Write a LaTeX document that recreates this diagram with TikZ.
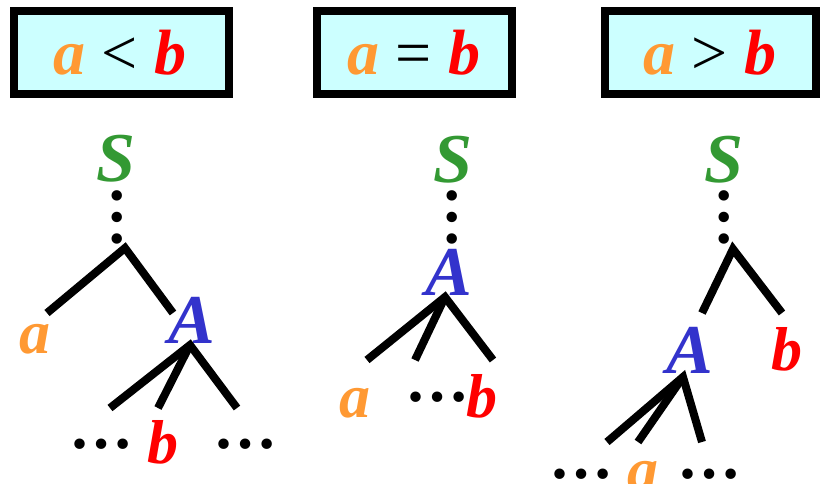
\documentclass[tikz,border=0pt]{standalone}
\usepackage{fontspec}
\setmainfont{Liberation Serif}
\definecolor{boxfill}{HTML}{CCFFFF}
\definecolor{cola}{HTML}{FF9933}
\definecolor{colb}{HTML}{FF0000}
\definecolor{colS}{HTML}{339933}
\definecolor{colA}{HTML}{3333CC}
\begin{document}
\begin{tikzpicture}[x=1pt,y=-1pt,
  relbox/.style={draw=black,line width=8pt,fill=boxfill},
  rel/.style={inner sep=0pt,font=\fontsize{64}{64}\selectfont\bfseries\itshape},
  lt/.style={inner sep=0pt,font=\fontsize{62}{62}\selectfont\bfseries\itshape},
  capl/.style={inner sep=0pt,font=\fontsize{70}{70}\selectfont\bfseries\itshape},
  ell/.style={inner sep=0pt,font=\fontsize{64}{64}\selectfont\bfseries},
  vell/.style={ell,rotate=90},
  branch/.style={line width=8pt,line cap=butt}]
\useasboundingbox (0,0) rectangle (828,483);
% boxes
\draw[relbox] (14,11) rectangle (229,94);
\draw[relbox] (317,11) rectangle (512,94);
\draw[relbox] (605,11) rectangle (816,94);
\node[rel,anchor=base] (r1) at (120,74) {\textcolor{cola}{a} \textcolor{black}{\upshape\mdseries<} \textcolor{colb}{b}};
\node[rel,anchor=base] (r2) at (414,74) {\textcolor{cola}{a} \textcolor{black}{\upshape\mdseries=} \textcolor{colb}{b}};
\node[rel,anchor=base] (r3) at (710,74) {\textcolor{cola}{a} \textcolor{black}{\upshape\mdseries>} \textcolor{colb}{b}};
% tree 1
\node[capl,text=colS] (S1) at (116,159) {S};
\node[vell] (v1) at (117,217) {…};
\coordinate (p1) at (125,248);
\coordinate (l1) at (47,313);
\coordinate (q1) at (173,313);
\node[lt,text=cola] (a1) at (35,339) {a};
\node[capl,text=colA] (A1) at (192,320) {A};
\coordinate (pA1) at (190,345);
\coordinate (e11) at (110,408);
\coordinate (e12) at (158,408);
\coordinate (e13) at (237,408);
\node[ell] (d11) at (101,444) {…};
\node[lt,text=colb] (b1) at (163,442) {b};
\node[ell] (d12) at (245,444) {…};
\draw[branch] (l1) -- (p1) -- (q1);
\draw[branch] (e11) -- (pA1) -- (e13);
\draw[branch] (pA1) -- (e12);
% tree 2
\node[capl,text=colS] (S2) at (453,160) {S};
\node[vell] (v2) at (452,217) {…};
\node[capl,text=colA] (A2) at (449,272) {A};
\coordinate (pA2) at (445,297);
\coordinate (e21) at (367,360);
\coordinate (e22) at (415,360);
\coordinate (e23) at (493,360);
\node[lt,text=cola] (a2) at (355,403) {a};
\node[ell] (d21) at (437,397) {…};
\node[lt,text=colb] (b2) at (482,396) {b};
\draw[branch] (e21) -- (pA2) -- (e23);
\draw[branch] (pA2) -- (e22);
% tree 3
\node[capl,text=colS] (S3) at (724,160) {S};
\node[vell] (v3) at (724,217) {…};
\coordinate (p3) at (733,249);
\coordinate (l3) at (702,313);
\coordinate (q3) at (782,313);
\node[capl,text=colA] (A3) at (690,350) {A};
\node[lt,text=colb] (b3) at (787,349) {b};
\coordinate (pA3) at (683,377);
\coordinate (e31) at (607,442);
\coordinate (e32) at (638,442);
\coordinate (e33) at (702,442);
\node[ell] (d31) at (581,474) {…};
\node[lt,text=cola] (a3) at (643,476) {a};
\node[ell] (d32) at (709,474) {…};
\draw[branch] (l3) -- (p3) -- (q3);
\draw[branch] (e31) -- (pA3) -- (e33);
\draw[branch] (pA3) -- (e32);
\end{tikzpicture}
\end{document}
